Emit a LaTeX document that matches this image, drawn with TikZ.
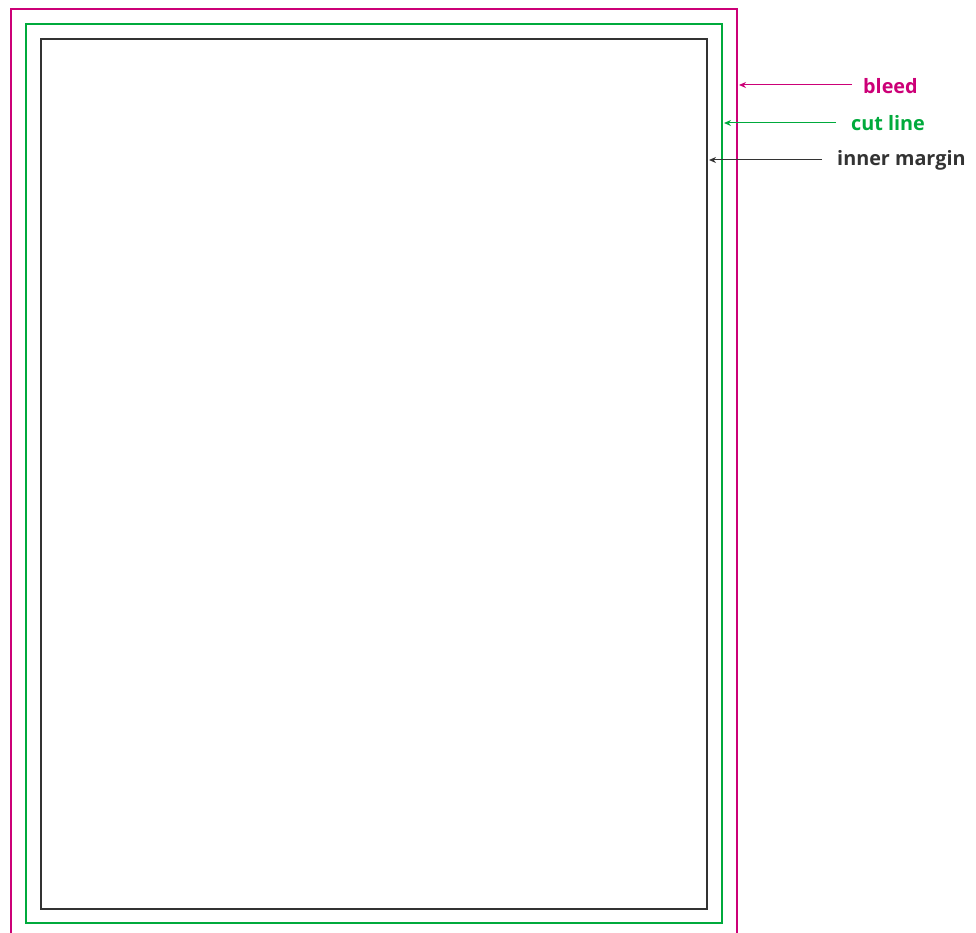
\documentclass[tikz,border=0pt]{standalone}
\usepackage{fontspec}
\setmainfont{Open Sans}
\usetikzlibrary{arrows.meta}
\definecolor{bleedc}{HTML}{CC0077}
\definecolor{cutc}{HTML}{00AA3C}
\definecolor{innerc}{HTML}{333333}
\tikzset{
  lbl/.style={font=\bfseries\fontsize{19.8}{22}\selectfont, anchor=west, inner sep=0pt},
  pointer/.style={-{Stealth[length=7pt,width=6pt]}, line width=1pt},
}
\begin{document}
\begin{tikzpicture}[x=1pt,y=-1pt]
\useasboundingbox (0,0) rectangle (976,933);
% bleed
\draw[bleedc, line width=1.1pt] (11,940) -- (11,9) -- (737,9) -- (737,940);
% cut line
\draw[cutc, line width=1.2pt] (26,24) rectangle (722,923);
% inner margin
\draw[innerc, line width=1.2pt] (41,39) rectangle (707,909);
% labels
\node[lbl, text=bleedc] (tb) at (863,86) {bleed};
\node[lbl, text=cutc] (tc) at (851,123) {cut line};
\node[lbl, text=innerc] (ti) at (837,160) {inner margin};
\coordinate (pb) at (739,85);
\coordinate (pc) at (724,123);
\coordinate (pi) at (709,160);
\draw[pointer, bleedc] (852,85) -- (pb);
\draw[pointer, cutc] (836,123) -- (pc);
\draw[pointer, innerc] (822,160) -- (pi);
\end{tikzpicture}
\end{document}
